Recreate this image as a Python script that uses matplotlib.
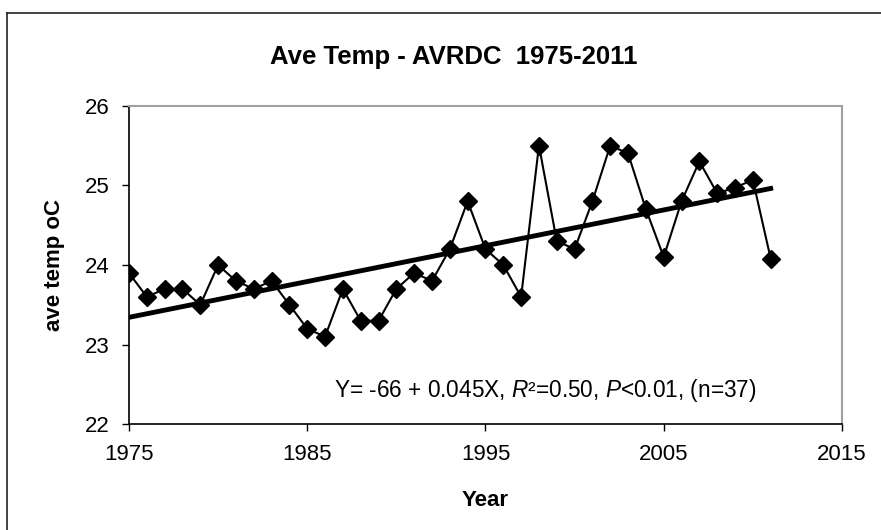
import matplotlib
matplotlib.use("Agg")
import matplotlib.pyplot as plt
import numpy as np

years = list(range(1975, 2012))
temps = [23.9, 23.6, 23.7, 23.7, 23.5, 24.0, 23.8, 23.7, 23.8, 23.5,
         23.2, 23.1, 23.7, 23.3, 23.3, 23.7, 23.9, 23.8, 24.2, 24.8,
         24.2, 24.0, 23.6, 25.5, 24.3, 24.2, 24.8, 25.5, 25.4, 24.7,
         24.1, 24.8, 25.3, 24.9, 24.97, 25.07, 24.08]
x_ticks = [1975, 1985, 1995, 2005, 2015]
y_ticks = [22, 23, 24, 25, 26]
title = "Ave Temp - AVRDC  1975-2011"
equation = r"Y= -66 + 0.045X, $\mathit{R}$²=0.50, $\mathit{P}$<0.01, (n=37)"

plt.rcParams['font.family'] = ['Liberation Sans', 'DejaVu Sans']
plt.rcParams['mathtext.fontset'] = 'custom'
plt.rcParams['mathtext.rm'] = 'Liberation Sans'
plt.rcParams['mathtext.it'] = 'Liberation Sans:italic'

fig = plt.figure(figsize=(8.81, 5.30), dpi=100)
ax = fig.add_axes([0.1464, 0.1994, 0.9557 - 0.1464, 0.8006 - 0.1994])

# figure frame (top and left lines)
fig.add_artist(plt.Line2D([0.0074, 0.0074], [0.0, 0.975], transform=fig.transFigure, color='#222222', lw=1.2))
fig.add_artist(plt.Line2D([0.0074, 1.0], [0.975, 0.975], transform=fig.transFigure, color='#222222', lw=1.2))

ax.plot(years, temps, color='black', lw=1.5, marker='D', markersize=9.5,
        markerfacecolor='black', markeredgecolor='black', zorder=3)

coef = np.polyfit(years, temps, 1)
fit_x = np.array([years[0], years[-1]])
ax.plot(fit_x, np.polyval(coef, fit_x), color='black', lw=3.5, zorder=2)

ax.set_xlim(1975, 2015)
ax.set_ylim(22, 26)
ax.set_xticks(x_ticks)
ax.set_yticks(y_ticks)
ax.tick_params(axis='both', direction='out', length=5, width=1, labelsize=16, color='black')
ax.tick_params(axis='x', pad=9)
ax.tick_params(axis='y', pad=9)

for s in ['left', 'bottom']:
    ax.spines[s].set_color('black')
    ax.spines[s].set_linewidth(1.2)
for s in ['top', 'right']:
    ax.spines[s].set_color('#a0a0a0')
    ax.spines[s].set_linewidth(1.5)

ax.set_xlabel('Year', fontsize=16, fontweight='bold', labelpad=18)
ax.set_ylabel('ave temp oC', fontsize=16, fontweight='bold', labelpad=14)
fig.text(0.515, 0.893, title, fontsize=18.5, fontweight='bold', ha='center', va='center')

ax.text(0.2875, 0.107, equation, transform=ax.transAxes, fontsize=16.3, ha='left', va='center')

fig.savefig('out.png', dpi=100)
